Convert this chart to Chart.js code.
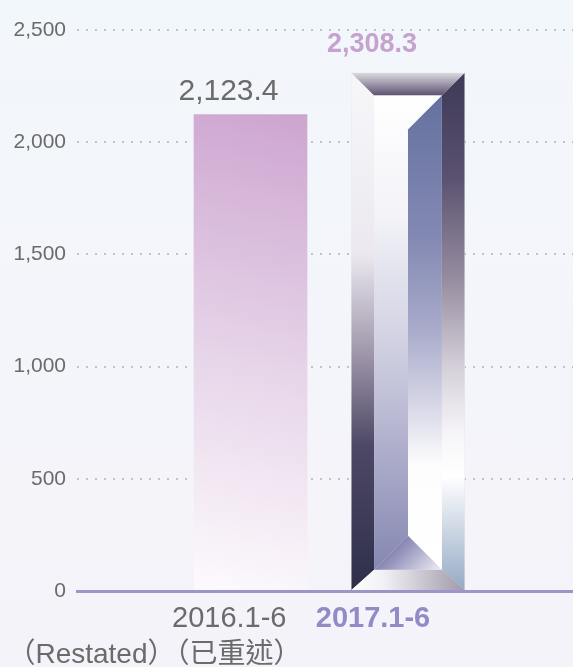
<!DOCTYPE html>
<html>
<head>
<meta charset="utf-8">
<script src="https://cdn.jsdelivr.net/npm/chart.js@4.4.0/dist/chart.umd.min.js"></script>
<style>
  html, body { margin: 0; padding: 0; }
  body {
    width: 573px;
    height: 667px;
    overflow: hidden;
    background: linear-gradient(#f2f7fb, #f4f5fa 55%, #f4f3f9);
  }
  canvas { display: block; }
</style>
</head>
<body>
<canvas id="chart" width="573" height="667"></canvas>
<script>
'use strict';

// data
var categories = ['2016.1-6', '2017.1-6'];
var subLabels = ['（Restated）（已重述）', ''];
var values = [2123.4, 2308.3];
var yTicks = [0, 500, 1000, 1500, 2000, 2500];

// look
var FONT = "'Liberation Sans', 'Noto Sans CJK TC', sans-serif";
var GREY = '#6b6b6b';
var valueStyle = [
  { font: '30px ' + FONT, color: GREY, dx: -22, dy: -15 },
  { font: 'bold 27px ' + FONT, color: '#c6a2cf', dx: -36, dy: -21 }
];
var catStyle = [
  { font: '29px ' + FONT, color: GREY, align: 'right', dx: 36 },
  { font: 'bold 29px ' + FONT, color: '#918bc6', align: 'center', dx: -35 }
];

function fmt(v) {
  return v.toLocaleString('en-US', { minimumFractionDigits: 1, maximumFractionDigits: 1 });
}

function grad(ctx, x0, y0, x1, y1, stops) {
  var g = ctx.createLinearGradient(x0, y0, x1, y1);
  stops.forEach(function(s) { g.addColorStop(s[0], s[1]); });
  return g;
}

function poly(ctx, pts, fill) {
  ctx.beginPath();
  ctx.moveTo(pts[0][0], pts[0][1]);
  for (var i = 1; i < pts.length; i++) {
    ctx.lineTo(pts[i][0], pts[i][1]);
  }
  ctx.closePath();
  ctx.fillStyle = fill;
  ctx.fill();
}

// pink bar fill, built from the scales
function barColor(context) {
  var chart = context.chart;
  if (!chart.chartArea || context.dataIndex === undefined) return '#dcc3de';
  if (context.dataIndex === 1) return '#e6e6ee';
  var xs = chart.scales.x;
  var ys = chart.scales.y;
  var cx = xs.getPixelForValue(0);
  return grad(chart.ctx, cx - 56, ys.getPixelForValue(0), cx + 56, ys.getPixelForValue(values[0]), [
    [0, '#fdfafd'], [0.45, '#e8d7ea'], [1, '#cda5d0']
  ]);
}

// the cut glass look on the 2017 bar
function drawGem(ctx, bar) {
  var p = bar.getProps(['x', 'y', 'base', 'width'], true);
  var L = p.x - p.width / 2, R = p.x + p.width / 2, T = p.y, B = p.base;
  var b = p.width * 0.2, bb = b * 0.9;
  var iL = L + b, iR = R - b, iT = T + b, iB = B - bb;
  var M = (iL + iR) / 2, d = iR - M;

  ctx.save();
  // left bevel
  poly(ctx, [[L, T], [iL, iT], [iL, iB], [L, B]], grad(ctx, 0, T, 0, B, [
    [0, '#f7f7fa'], [0.35, '#ebe9ef'], [0.55, '#9c93a8'], [0.72, '#4d4865'], [1, '#2f2f4a']
  ]));
  // right bevel
  poly(ctx, [[R, T], [R, B], [iR, iB], [iR, iT]], grad(ctx, 0, T, 0, B, [
    [0, '#3d3956'], [0.2, '#5a5170'], [0.4, '#978da0'], [0.58, '#d8d3dc'],
    [0.7, '#f6f5f8'], [0.78, '#ffffff'], [1, '#94aac4']
  ]));
  // top bevel
  poly(ctx, [[L, T], [R, T], [iR, iT], [iL, iT]], grad(ctx, 0, T, 0, iT, [
    [0, '#dcd8e0'], [1, '#5b5270']
  ]));
  // bottom bevel
  poly(ctx, [[L, B], [iL, iB], [iR, iB], [R, B]], grad(ctx, L, 0, R, 0, [
    [0, '#ffffff'], [0.3, '#f0eff3'], [1, '#a199ab']
  ]));
  // inner left face
  poly(ctx, [[iL, iT], [iR, iT], [M, iT + d], [M, iB - d], [iL, iB]], grad(ctx, 0, iT, 0, iB, [
    [0, '#ffffff'], [0.25, '#f3f3f8'], [0.55, '#cdcde0'], [0.8, '#a6a6c6'], [1, '#8587b0']
  ]));
  // inner right face
  poly(ctx, [[M, iT + d], [iR, iT], [iR, iB], [M, iB - d]], grad(ctx, 0, iT, 0, iB, [
    [0, '#64719f'], [0.3, '#8389b3'], [0.5, '#aaaccb'], [0.65, '#d6d6e6'], [0.78, '#fdfdfe'], [1, '#ffffff']
  ]));
  // bottom facet
  poly(ctx, [[iL, iB], [M, iB - d], [iR, iB]], grad(ctx, M, iB - d, iR, iB, [
    [0, '#8585b2'], [1, '#eeedf4']
  ]));
  ctx.restore();
}

var decorPlugin = {
  id: 'decor',
  afterDatasetsDraw: function(chart) {
    var ctx = chart.ctx;
    var bars = chart.getDatasetMeta(0).data;
    drawGem(ctx, bars[1]);

    ctx.save();
    ctx.textBaseline = 'alphabetic';
    // value labels
    for (var i = 0; i < bars.length; i++) {
      var s = valueStyle[i];
      ctx.font = s.font;
      ctx.fillStyle = s.color;
      ctx.textAlign = 'center';
      ctx.fillText(fmt(values[i]), bars[i].x + s.dx, bars[i].y + s.dy);
    }
    // category labels
    var bottom = chart.chartArea.bottom;
    for (var j = 0; j < categories.length; j++) {
      var c = catStyle[j];
      var x = chart.scales.x.getPixelForValue(j) + c.dx;
      ctx.font = c.font;
      ctx.fillStyle = c.color;
      ctx.textAlign = c.align;
      ctx.fillText(categories[j], x, bottom + 36);
      if (subLabels[j]) {
        ctx.font = '28px ' + FONT;
        ctx.fillStyle = GREY;
        ctx.fillText(subLabels[j], x + 15, bottom + 72);
      }
    }
    ctx.restore();
  }
};

var chart = new Chart(document.getElementById('chart'), {
  type: 'bar',
  data: {
    datasets: [{
      data: values.map(function(v, i) { return { x: i, y: v }; }),
      backgroundColor: barColor,
      borderWidth: 0,
      barThickness: 113
    }]
  },
  options: {
    responsive: false,
    animation: false,
    events: [],
    layout: { padding: { top: 30, left: 0, right: 0, bottom: 0 } },
    plugins: {
      legend: { display: false },
      tooltip: { enabled: false }
    },
    scales: {
      x: {
        type: 'linear',
        offset: false,
        min: -1.1016,
        max: 2.0476,
        grid: { display: false },
        ticks: { display: false },
        border: { display: true, color: '#9b95c9', width: 3, z: 1 },
        afterFit: function(scale) { scale.height = 76; }
      },
      y: {
        min: 0,
        max: 2500,
        afterBuildTicks: function(scale) {
          scale.ticks = yTicks.map(function(v) { return { value: v }; });
        },
        afterFit: function(scale) { scale.width = 77; },
        ticks: {
          padding: 11,
          color: GREY,
          font: { family: FONT, size: 21 },
          callback: function(v) { return v.toLocaleString('en-US'); }
        },
        grid: {
          drawTicks: false,
          lineWidth: 2,
          color: function(ctx) { return ctx.tick && ctx.tick.value === 0 ? 'rgba(0,0,0,0)' : '#c2c2c2'; }
        },
        border: { display: false, dash: [2, 7] }
      }
    }
  },
  plugins: [decorPlugin]
});
</script>
</body>
</html>
